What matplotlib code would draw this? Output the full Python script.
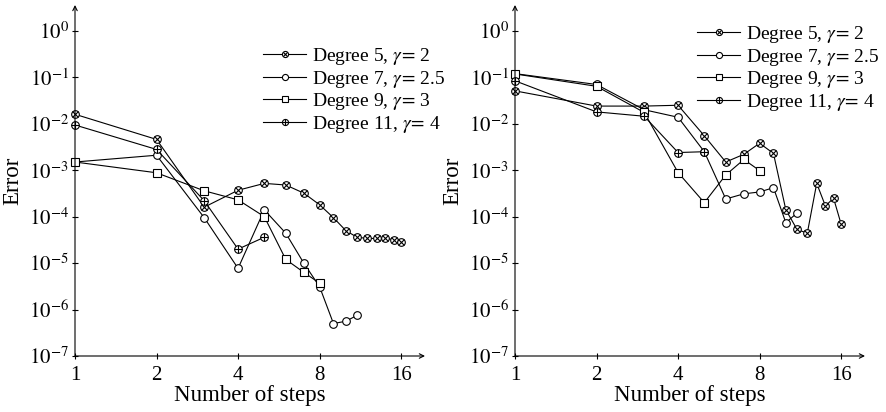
import numpy as np
import matplotlib.pyplot as plt
from matplotlib.legend_handler import HandlerTuple

plt.rcParams['font.family'] = ['Liberation Serif', 'DejaVu Serif']
plt.rcParams['mathtext.fontset'] = 'stix'

# Error vs number of steps, left panel
steps5 = np.arange(1, 17)
steps7 = np.arange(1, 12)
steps9 = np.arange(1, 9)
steps11 = np.arange(1, 6)

left_deg5 = [1.6e-2, 4.6e-3, 1.6e-4, 3.7e-4, 5.2e-4, 4.8e-4, 3.2e-4, 1.8e-4,
             9.5e-5, 5.0e-5, 3.6e-5, 3.4e-5, 3.4e-5, 3.4e-5, 3.2e-5, 2.9e-5]
left_deg7 = [1.5e-3, 2.1e-3, 9.5e-5, 7.7e-6, 1.4e-4, 4.4e-5, 9.9e-6, 3.1e-6,
             5.0e-7, 5.6e-7, 7.5e-7]
left_deg9 = [1.5e-3, 8.8e-4, 3.6e-4, 2.3e-4, 1.0e-4, 1.2e-5, 6.3e-6, 3.7e-6]
left_deg11 = [9.4e-3, 2.8e-3, 2.2e-4, 2.0e-5, 3.6e-5]

# right panel
right_deg5 = [5.1e-2, 2.4e-2, 2.4e-2, 2.5e-2, 5.5e-3, 1.5e-3, 2.2e-3, 3.8e-3,
              2.3e-3, 1.4e-4, 5.3e-5, 4.4e-5, 5.2e-4, 1.7e-4, 2.5e-4, 6.9e-5]
right_deg7 = [1.2e-1, 7.0e-2, 2.0e-2, 1.38e-2, 2.5e-3, 2.4e-4, 3.1e-4, 3.4e-4,
              4.2e-4, 7.4e-5, 1.2e-4]
right_deg9 = [1.18e-1, 6.4e-2, 1.75e-2, 8.9e-4, 2.0e-4, 7.9e-4, 1.7e-3, 9.8e-4]
right_deg11 = [8.4e-2, 1.8e-2, 1.45e-2, 2.4e-3, 2.5e-3]

labels = [r'Degree 5, $\gamma\!=\,$2', r'Degree 7, $\gamma\!=\,$2.5',
          r'Degree 9, $\gamma\!=\,$3', r'Degree 11, $\gamma\!=\,$4']
yticks = [1e-7, 1e-6, 1e-5, 1e-4, 1e-3, 1e-2, 1e-1, 1e0]
ytick_labels = [r'$10^{%d}$' % e for e in range(-7, 1)]
xticks = [1, 2, 4, 8, 16]

lw = 0.8
ms = 5.5


def series(ax, x, y, marker):
    # circled markers get an x or + drawn on top of the circle
    if marker in ('otimes', 'oplus'):
        base, = ax.plot(x, y, '-o', color='black', lw=lw, ms=ms, mfc='white',
                        mec='black', mew=lw, clip_on=False)
        if marker == 'otimes':
            top, = ax.plot(x, y, 'x', color='black', ms=ms * 0.68, mew=lw,
                           clip_on=False)
        else:
            top, = ax.plot(x, y, '+', color='black', ms=ms * 0.98, mew=lw,
                           clip_on=False)
        return (base, top)
    base, = ax.plot(x, y, '-' + marker, color='black', lw=lw,
                    ms=ms if marker == 'o' else ms * 1.05, mfc='white',
                    mec='black', mew=lw, clip_on=False)
    return (base,)


def panel(ax, d5, d7, d9, d11, legend_anchor):
    handles = []
    handles.append(series(ax, steps5, d5, 'otimes'))
    handles.append(series(ax, steps7, d7, 'o'))
    handles.append(series(ax, steps9, d9, 's'))
    handles.append(series(ax, steps11, d11, 'oplus'))

    ax.set_xscale('log', base=2)
    ax.set_yscale('log')
    ax.set_xlim(1, 19.6)
    ax.set_ylim(1e-7, 3.6)
    ax.set_xticks(xticks)
    ax.set_xticklabels([str(t) for t in xticks])
    ax.set_yticks(yticks)
    ax.set_yticklabels(ytick_labels)
    ax.minorticks_off()
    ax.tick_params(direction='inout', length=5, width=lw, labelsize=15)
    ax.tick_params(axis='x', pad=5)
    ax.tick_params(axis='y', pad=2)

    for s in ['top', 'right', 'left', 'bottom']:
        ax.spines[s].set_visible(False)
    ax.annotate('', xy=(1.0, 0), xytext=(0, 0), xycoords='axes fraction',
                arrowprops=dict(arrowstyle='->', lw=lw, color='black',
                                shrinkA=0, shrinkB=0, mutation_scale=8))
    ax.annotate('', xy=(0, 1.0), xytext=(0, 0), xycoords='axes fraction',
                arrowprops=dict(arrowstyle='->', lw=lw, color='black',
                                shrinkA=0, shrinkB=0, mutation_scale=8))

    ax.set_xlabel('Number of steps', fontsize=16.5, labelpad=0)
    ax.set_ylabel('Error', fontsize=16.5, labelpad=4)

    leg = ax.legend(handles, labels, handler_map={tuple: HandlerTuple(ndivide=1)},
                    loc='upper right', bbox_to_anchor=legend_anchor,
                    bbox_transform=ax.figure.transFigure, frameon=False,
                    fontsize=14, numpoints=1, markerscale=0.8,
                    handlelength=2.2, handletextpad=0.3, labelspacing=0.08,
                    borderpad=0, borderaxespad=0)
    return leg


fig = plt.figure(figsize=(8.86, 4.12), dpi=100)
ax1 = fig.add_axes([75 / 886, 56 / 412, 350 / 886, 351 / 412])
ax2 = fig.add_axes([515 / 886, 56 / 412, 350 / 886, 351 / 412])

panel(ax1, left_deg5, left_deg7, left_deg9, left_deg11, (445 / 886, 1 - 46 / 412))
panel(ax2, right_deg5, right_deg7, right_deg9, right_deg11, (879 / 886, 1 - 24 / 412))

fig.savefig('out.png', dpi=100)
